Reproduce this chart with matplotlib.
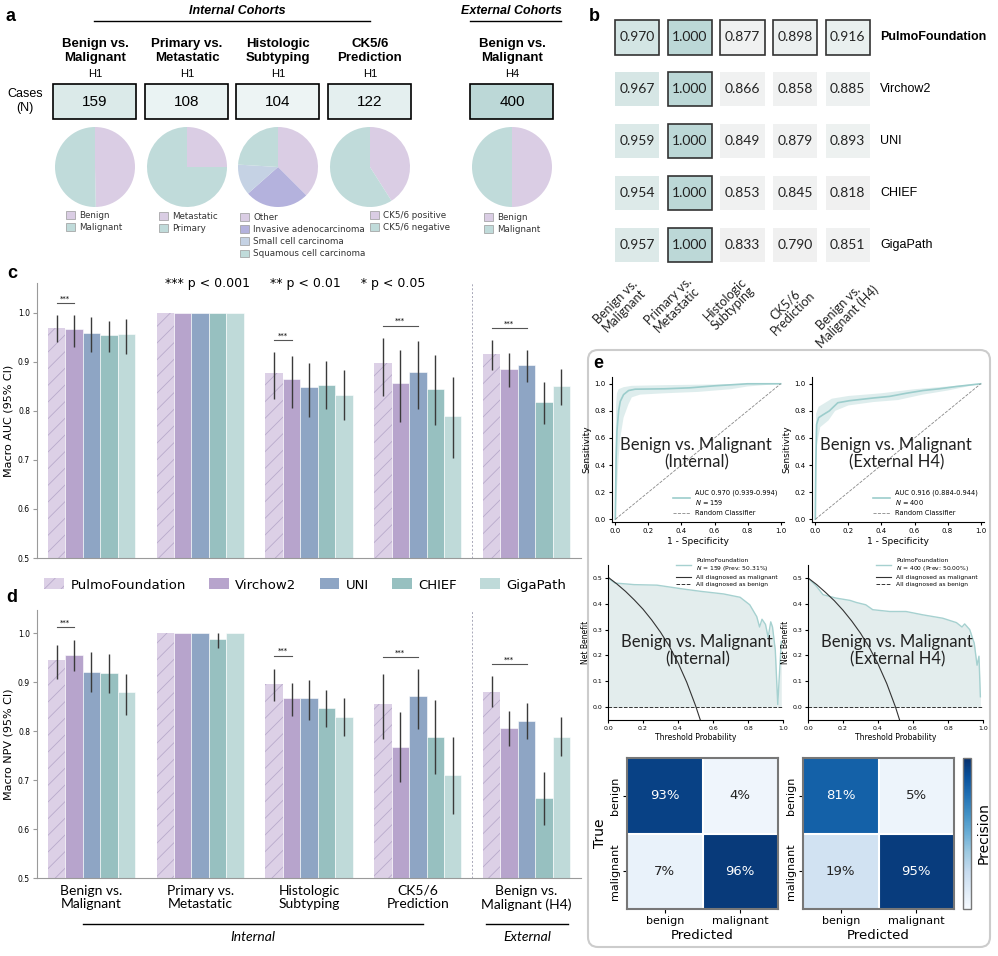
import numpy as np
import matplotlib
matplotlib.use("Agg")
import matplotlib.pyplot as plt
from matplotlib.patches import Rectangle, FancyBboxPatch, Patch
from matplotlib.colors import LinearSegmentedColormap, PowerNorm

W, H = 998, 956

# ---------------- panel a: cohorts ----------------
cohort_titles = ["Benign vs.\nMalignant", "Primary vs.\nMetastatic", "Histologic\nSubtyping",
                 "CK5/6\nPrediction", "Benign vs.\nMalignant"]
cohort_sites = ["H1", "H1", "H1", "H1", "H4"]
cohort_cases = [159, 108, 104, 122, 400]
pie_labels = [["Benign", "Malignant"],
              ["Metastatic", "Primary"],
              ["Other", "Invasive adenocarcinoma", "Small cell carcinoma", "Squamous cell carcinoma"],
              ["CK5/6 positive", "CK5/6 negative"],
              ["Benign", "Malignant"]]
pie_counts = [[79, 80], [27, 81], [39, 27, 13, 25], [50, 72], [200, 200]]
pie_colors = [["#dacde4", "#c0dbda"], ["#dacde4", "#c0dbda"],
              ["#dacde4", "#b4b2dd", "#c5d2e4", "#c0dbda"],
              ["#dacde4", "#c0dbda"], ["#dacde4", "#c0dbda"]]

# ---------------- panels b/c/d: model metrics ----------------
models = ["PulmoFoundation", "Virchow2", "UNI", "CHIEF", "GigaPath"]
tasks = ["Benign vs.\nMalignant", "Primary vs.\nMetastatic", "Histologic\nSubtyping",
         "CK5/6\nPrediction", "Benign vs.\nMalignant (H4)"]
model_colors = ["#dcd0e6", "#b7a4cc", "#8ea5c4", "#97c0c0", "#bfdad9"]
nan = np.nan

auc = [[0.970, 1.000, 0.877, 0.898, 0.916],
       [0.967, 1.000, 0.866, 0.858, 0.885],
       [0.959, 1.000, 0.849, 0.879, 0.893],
       [0.954, 1.000, 0.853, 0.845, 0.818],
       [0.957, 1.000, 0.833, 0.790, 0.851]]
auc_lo = [[0.940, nan, 0.824, 0.830, 0.883],
          [0.931, nan, 0.805, 0.777, 0.849],
          [0.920, nan, 0.787, 0.803, 0.859],
          [0.921, nan, 0.803, 0.772, 0.774],
          [0.916, nan, 0.781, 0.703, 0.813]]
auc_hi = [[0.995, nan, 0.920, 0.949, 0.944],
          [0.995, nan, 0.913, 0.925, 0.918],
          [0.991, nan, 0.898, 0.942, 0.925],
          [0.984, nan, 0.901, 0.915, 0.859],
          [0.988, nan, 0.883, 0.869, 0.886]]
auc_sig = [(0, 0, 1, 1.020), (2, 0, 1, 0.944), (3, 0, 2, 0.974), (4, 0, 2, 0.969)]

npv = [[0.944, 1.000, 0.896, 0.855, 0.880],
       [0.956, 1.000, 0.867, 0.767, 0.807],
       [0.920, 1.000, 0.867, 0.871, 0.820],
       [0.918, 0.988, 0.847, 0.788, 0.663],
       [0.880, 1.000, 0.829, 0.711, 0.787]]
npv_lo = [[0.906, nan, 0.861, 0.784, 0.849],
          [0.922, nan, 0.830, 0.695, 0.769],
          [0.879, nan, 0.823, 0.805, 0.784],
          [0.878, 0.970, 0.808, 0.713, 0.609],
          [0.833, nan, 0.789, 0.631, 0.748]]
npv_hi = [[0.976, nan, 0.927, 0.917, 0.913],
          [0.986, nan, 0.899, 0.839, 0.841],
          [0.961, nan, 0.905, 0.927, 0.857],
          [0.958, 1.000, 0.884, 0.863, 0.717],
          [0.917, nan, 0.868, 0.788, 0.828]]
npv_sig = [(0, 0, 1, 1.012), (2, 0, 1, 0.954), (3, 0, 2, 0.951), (4, 0, 2, 0.937)]

# ---------------- panel e: ROC / DCA / confusion ----------------
roc_int_fpr = [0, 0.005, 0.01, 0.02, 0.03, 0.05, 0.08, 0.12, 0.3, 0.45, 0.6, 0.8, 1.0]
roc_int_tpr = [0, 0.45, 0.65, 0.80, 0.87, 0.92, 0.95, 0.96, 0.963, 0.97, 0.985, 1.0, 1.0]
roc_int_up_x = [0, 0, 0.005, 0.01, 0.02, 0.05, 0.1, 0.3, 0.6, 0.8, 1.0]
roc_int_up_y = [0, 0.45, 0.85, 0.93, 0.96, 0.975, 0.985, 0.99, 0.995, 1.0, 1.0]
roc_int_lo_x = [0, 0.02, 0.03, 0.05, 0.08, 0.1, 0.15, 0.3, 0.5, 0.7, 0.8, 1.0]
roc_int_lo_y = [0, 0.45, 0.60, 0.75, 0.85, 0.90, 0.92, 0.93, 0.94, 0.96, 0.98, 1.0]

roc_ext_fpr = [0, 0.003, 0.008, 0.02, 0.045, 0.085, 0.136, 0.206, 0.35, 0.45, 0.55, 0.65, 0.75, 0.854, 1.0]
roc_ext_tpr = [0, 0.40, 0.70, 0.75, 0.77, 0.80, 0.86, 0.875, 0.895, 0.907, 0.93, 0.95, 0.963, 0.98, 1.0]
roc_ext_up_x = [0, 0, 0.005, 0.02, 0.06, 0.1, 0.2, 0.4, 0.6, 0.8, 1.0]
roc_ext_up_y = [0, 0.40, 0.78, 0.83, 0.86, 0.89, 0.91, 0.93, 0.96, 0.98, 1.0]
roc_ext_lo_x = [0, 0.01, 0.03, 0.08, 0.12, 0.2, 0.35, 0.5, 0.65, 0.8, 1.0]
roc_ext_lo_y = [0, 0.55, 0.68, 0.73, 0.80, 0.84, 0.865, 0.88, 0.92, 0.95, 1.0]

dca_int_pt = [0, 0.04, 0.08, 0.15, 0.28, 0.35, 0.43, 0.53, 0.66, 0.755, 0.81, 0.85, 0.866,
              0.88, 0.90, 0.915, 0.93, 0.94, 0.956, 0.97, 0.99]
dca_int_nb = [0.5, 0.48, 0.478, 0.474, 0.472, 0.465, 0.457, 0.448, 0.438, 0.425, 0.396, 0.35, 0.31,
              0.34, 0.32, 0.27, 0.33, 0.31, 0.22, 0.01, 0.254]
dca_ext_pt = [0, 0.048, 0.086, 0.16, 0.24, 0.276, 0.33, 0.37, 0.467, 0.56, 0.657, 0.77, 0.848,
              0.88, 0.895, 0.924, 0.95, 0.966, 0.977, 0.985]
dca_ext_nb = [0.5, 0.468, 0.435, 0.422, 0.413, 0.405, 0.396, 0.377, 0.37, 0.37, 0.357, 0.344, 0.327,
              0.31, 0.322, 0.30, 0.247, 0.162, 0.197, 0.04]
all_pt = [0, 0.05, 0.1, 0.15, 0.2, 0.25, 0.3, 0.35, 0.4, 0.45, 0.5, 0.53]
all_int_nb = [0.503, 0.477, 0.448, 0.415, 0.379, 0.337, 0.29, 0.236, 0.172, 0.096, 0.006, -0.055]
all_ext_nb = [0.5, 0.474, 0.444, 0.412, 0.375, 0.333, 0.286, 0.231, 0.167, 0.091, 0.0, -0.064]

cm_labels = ["benign", "malignant"]
cm_int = [[0.93, 0.04], [0.07, 0.96]]
cm_ext = [[0.81, 0.05], [0.19, 0.95]]

plt.rcParams["font.family"] = ["DejaVu Sans"]
plt.rcParams["hatch.linewidth"] = 0.6

fig = plt.figure(figsize=(W / 100, H / 100), dpi=100)


def pax(x0, y0, x1, y1):
    # axes placed in pixel coordinates, y measured from the top
    return fig.add_axes([x0 / W, 1 - y1 / H, (x1 - x0) / W, (y1 - y0) / H])


ov = pax(0, 0, W, H)
ov.set_xlim(0, W)
ov.set_ylim(H, 0)
ov.axis("off")

ARIAL = "Liberation Sans"
CALIBRI = "Lato"

for lbl, (x, y) in zip("abcde", [(11, 16), (594, 16), (12, 274), (12, 598), (598, 364)]):
    ov.text(x, y, lbl, fontsize=13, fontweight="bold", family=ARIAL, ha="center", va="center")

# ---------------- panel a ----------------
col_x = [95, 187, 278, 370, 512]
ov.text(237, 11, "Internal Cohorts", fontsize=9, fontweight="bold", style="italic",
        family=ARIAL, ha="center", va="center")
ov.plot([94, 370], [21, 21], color="black", lw=1)
ov.text(511, 11, "External Cohorts", fontsize=9, fontweight="bold", style="italic",
        family=ARIAL, ha="center", va="center")
ov.plot([470, 561], [21, 21], color="black", lw=1)
ov.text(25, 101, "Cases\n(N)", fontsize=9, family=ARIAL, ha="center", va="center", linespacing=1.3)

box_cmap = LinearSegmentedColormap.from_list("cases", ["#f3f8f8", "#bcd8d7"])
box_norm = PowerNorm(0.5, vmin=100, vmax=400)
legend_pos = [(66, 211), (159, 212), (240, 213), (370, 211), (484, 213)]
for k, cx in enumerate(col_x):
    ov.text(cx, 51, cohort_titles[k], fontsize=9.5, fontweight="bold", family=ARIAL,
            ha="center", va="center", linespacing=1.15)
    ov.text(cx, 74, cohort_sites[k], fontsize=8, family=ARIAL, ha="center", va="center")
    ov.add_patch(Rectangle((cx - 41.5, 84), 83, 35, facecolor=box_cmap(box_norm(cohort_cases[k])),
                           edgecolor="black", lw=1.2))
    ov.text(cx, 102, str(cohort_cases[k]), fontsize=11, family=ARIAL, ha="center", va="center")

    pa = pax(cx - 40, 127, cx + 40, 207)
    pa.pie(pie_counts[k], colors=pie_colors[k], startangle=90, counterclock=False,
           wedgeprops=dict(linewidth=0))
    pa.set_xlim(-1, 1)
    pa.set_ylim(-1, 1)
    handles = [Patch(facecolor=c, edgecolor="#9a9a9a", lw=0.5) for c in pie_colors[k]]
    lx, ly = legend_pos[k]
    pa.legend(handles, pie_labels[k], loc="upper left", bbox_to_anchor=(lx / W, 1 - ly / H),
              bbox_transform=fig.transFigure, frameon=False, fontsize=6.3, borderpad=0,
              borderaxespad=0, handlelength=1.0, handleheight=0.9, labelspacing=0.35,
              handletextpad=0.5, labelcolor="#333333")

# ---------------- panel b ----------------
heat_cmap = LinearSegmentedColormap.from_list(
    "heat", [(0, "#f0f0f0"), (0.41, "#f0f1f1"), (0.6, "#e9f0ef"), (0.81, "#dbe9e8"), (1, "#bcd8d7")])
bx = pax(611, 11.5, 874, 271)
bx.set_xlim(-0.5, 4.5)
bx.set_ylim(4.5, -0.5)
bx.axis("off")
for i in range(len(models)):
    for j in range(len(tasks)):
        v = auc[i][j]
        framed = (i == 0) or (j == 1)
        bx.add_patch(Rectangle((j - 0.42, i - 0.33), 0.84, 0.66,
                               facecolor=heat_cmap((v - 0.79) / 0.21),
                               edgecolor="#333333" if framed else "none", lw=1.2 if framed else 0))
        bx.text(j, i, f"{v:.3f}", fontsize=10, family=CALIBRI, ha="center", va="center", color="#222222")
    bx.text(4.62, i, models[i], fontsize=9, family=ARIAL, ha="left", va="center",
            fontweight="bold" if i == 0 else "normal", clip_on=False)
col_lbl_pos = [(620, 306), (673, 305), (729, 304), (789, 309), (843, 312)]
for j, (x, y) in enumerate(col_lbl_pos):
    ov.text(x, y, tasks[j], fontsize=9, family=CALIBRI, rotation=45, ha="center", va="center",
            rotation_mode="anchor", linespacing=1.0, color="#222222")


# ---------------- panels c, d ----------------
def plot_bars(ax, vals, lo, hi, sig, ylabel, ytop):
    x = np.arange(len(tasks))
    width = 0.16
    for j in range(len(models)):
        xs = x + (j - 2) * width
        v = np.array(vals[j])
        if j == 0:
            ax.bar(xs, v, width, color=model_colors[j], hatch="//", edgecolor="#b9aacb", lw=0)
        else:
            ax.bar(xs, v, width, color=model_colors[j], edgecolor="white", lw=0.4)
        err = np.array([v - np.array(lo[j]), np.array(hi[j]) - v])
        ax.errorbar(xs, v, yerr=err, fmt="none", ecolor="#3a3a3a", elinewidth=1, capsize=0)
    for t, m0, m1, y in sig:
        x0 = t + (m0 - 2) * width
        x1 = t + (m1 - 2) * width
        ax.plot([x0, x1], [y, y], color="#555555", lw=0.8)
        ax.text((x0 + x1) / 2, y + 0.003, "***", fontsize=5, ha="center", va="bottom")
    ax.axvline(3.5, color="#a8a8b8", lw=0.7, ls=(0, (2, 2)))
    ax.set_xlim(-0.5, 4.5)
    ax.set_ylim(0.5, ytop)
    ax.set_yticks([0.5, 0.6, 0.7, 0.8, 0.9, 1.0])
    ax.set_ylabel(ylabel, fontsize=8, labelpad=3)
    for s in ["top", "right"]:
        ax.spines[s].set_visible(False)
    for s in ["left", "bottom"]:
        ax.spines[s].set_color("#9a9a9a")
        ax.spines[s].set_linewidth(0.8)
    ax.tick_params(axis="y", labelsize=5.5, length=3, pad=2, color="#9a9a9a")


cx_ax = pax(37, 283, 581, 558)
plot_bars(cx_ax, auc, auc_lo, auc_hi, auc_sig, "Macro AUC (95% CI)", 1.061)
cx_ax.set_xticks([])
cx_ax.text(0.475, 1.00, "*** p < 0.001     ** p < 0.01     * p < 0.05", transform=cx_ax.transAxes,
           fontsize=9, ha="center", va="center")

dx_ax = pax(37, 610, 581, 878)
plot_bars(dx_ax, npv, npv_lo, npv_hi, npv_sig, "Macro NPV (95% CI)", 1.047)
dx_ax.set_xticks(np.arange(len(tasks)))
dx_ax.set_xticklabels(tasks, fontsize=10, family=CALIBRI, linespacing=1.15)
dx_ax.tick_params(axis="x", length=0, pad=5)

ov.plot([83, 423], [924, 924], color="black", lw=1)
ov.text(253, 937, "Internal", fontsize=10, style="italic", family=CALIBRI, ha="center", va="center")
ov.plot([486, 568], [924, 924], color="black", lw=1)
ov.text(527, 937, "External", fontsize=10, style="italic", family=CALIBRI, ha="center", va="center")

leg_handles = [Patch(facecolor=model_colors[0], hatch="//", edgecolor="#b9aacb", lw=0)]
leg_handles += [Patch(facecolor=c, edgecolor="none") for c in model_colors[1:]]
fig.legend(leg_handles, models, loc="center left", bbox_to_anchor=(44 / W, 1 - 585 / H), ncol=5,
           frameon=False, fontsize=9.5, borderpad=0, borderaxespad=0, handlelength=1.5,
           handleheight=0.9, handletextpad=0.5, columnspacing=1.75)

# ---------------- panel e ----------------
ov.add_patch(FancyBboxPatch((588, 350), 402, 597, boxstyle="round,pad=0,rounding_size=10",
                            edgecolor="#cccccc", facecolor="none", lw=1.5))

TEAL = "#9ccdcc"
roc_sets = [
    (612, roc_int_fpr, roc_int_tpr, roc_int_up_x, roc_int_up_y, roc_int_lo_x, roc_int_lo_y,
     "AUC 0.970 (0.939-0.994)\n$N$ = 159", "Benign vs. Malignant\n(Internal)"),
    (812, roc_ext_fpr, roc_ext_tpr, roc_ext_up_x, roc_ext_up_y, roc_ext_lo_x, roc_ext_lo_y,
     "AUC 0.916 (0.884-0.944)\n$N$ = 400", "Benign vs. Malignant\n(External H4)"),
]
for x0, fx, ty, ux, uy, lx_, ly_, lab, title in roc_sets:
    ax = pax(x0, 377, x0 + 172, 522)
    ax.fill(np.concatenate([ux, lx_[::-1]]), np.concatenate([uy, ly_[::-1]]),
            color="#c9e2e1", alpha=0.6, lw=0)
    ax.plot(fx, ty, color=TEAL, lw=1.2, label=lab)
    ax.plot([0, 1], [0, 1], color="#888888", lw=0.6, ls="--", label="Random Classifier")
    ax.set_xlim(-0.02, 1.02)
    ax.set_ylim(-0.02, 1.05)
    ax.set_xticks(np.linspace(0, 1, 6))
    ax.set_yticks(np.linspace(0, 1, 6))
    ax.tick_params(labelsize=5, length=2.5, pad=2)
    ax.set_xlabel("1 - Specificity", fontsize=6.5, labelpad=2)
    ax.set_ylabel("Sensitivity", fontsize=6.5, labelpad=2)
    for s in ["top", "right"]:
        ax.spines[s].set_visible(False)
    ax.legend(loc="lower right", fontsize=4.8, frameon=False, handlelength=2.5)
    ax.text(0.49, 0.47, title, transform=ax.transAxes, fontsize=12, family=CALIBRI,
            ha="center", va="center", linespacing=1.1, color="#222222")

dca_sets = [
    (608, dca_int_pt, dca_int_nb, all_int_nb, "PulmoFoundation\n$N$ = 159 (Prev: 50.31%)",
     "Benign vs. Malignant\n(Internal)"),
    (808, dca_ext_pt, dca_ext_nb, all_ext_nb, "PulmoFoundation\n$N$ = 400 (Prev: 50.00%)",
     "Benign vs. Malignant\n(External H4)"),
]
for x0, pt, nb, allnb, lab, title in dca_sets:
    ax = pax(x0, 565, x0 + 175, 720)
    ax.fill_between(pt, nb, 0, color="#e3eded", lw=0)
    ax.plot(pt, nb, color="#a6d1d0", lw=1.0, label=lab)
    ax.plot(all_pt, allnb, color="#333333", lw=0.8, label="All diagnosed as malignant")
    ax.axhline(0, color="#333333", lw=0.7, ls="--", label="All diagnosed as benign")
    ax.set_xlim(0, 1)
    ax.set_ylim(-0.05, 0.55)
    ax.set_xticks(np.linspace(0, 1, 6))
    ax.set_yticks([0, 0.1, 0.2, 0.3, 0.4, 0.5])
    ax.tick_params(labelsize=4.5, length=2, pad=2)
    ax.set_xlabel("Threshold Probability", fontsize=5.5, labelpad=2)
    ax.set_ylabel("Net Benefit", fontsize=5.5, labelpad=2)
    for s in ["top", "right"]:
        ax.spines[s].set_visible(False)
    ax.legend(loc="upper right", fontsize=4.3, frameon=False, handlelength=2.5,
              bbox_to_anchor=(1.0, 1.08), labelspacing=0.3)
    ax.text(0.51, 0.45, title, transform=ax.transAxes, fontsize=12, family=CALIBRI,
            ha="center", va="center", linespacing=1.1, color="#222222")

for k, (x0, cm) in enumerate([(627, cm_int), (803, cm_ext)]):
    ax = pax(x0, 758, x0 + 151, 909)
    m = np.array(cm)
    im = ax.imshow(m, cmap="Blues", vmin=0, vmax=1, aspect="auto")
    for i in range(2):
        for j in range(2):
            ax.text(j, i, f"{m[i, j] * 100:.0f}%", ha="center", va="center", fontsize=9.5,
                    color="white" if m[i, j] > 0.5 else "#222222")
    ax.set_xticks([0, 1])
    ax.set_xticklabels(cm_labels, fontsize=8)
    ax.set_yticks([0, 1])
    ax.set_yticklabels(cm_labels, fontsize=8, rotation=90, va="center")
    ax.set_xticks([0.5], minor=True)
    ax.set_yticks([0.5], minor=True)
    ax.grid(which="minor", color="white", lw=1.5)
    ax.tick_params(which="minor", length=0)
    ax.tick_params(which="major", length=3, pad=2)
    ax.set_xlabel("Predicted", fontsize=9.5, labelpad=2)
    if k == 0:
        ax.set_ylabel("True", fontsize=10, labelpad=2)
    for s in ax.spines.values():
        s.set_color("#777777")
        s.set_linewidth(1.5)

cax = pax(963, 758, 971, 909)
cb = fig.colorbar(im, cax=cax)
cb.set_ticks([])
cb.outline.set_edgecolor("#777777")
cb.outline.set_linewidth(1.0)
cb.set_label("Precision", fontsize=10, labelpad=4)

fig.savefig("out.png", dpi=100)
